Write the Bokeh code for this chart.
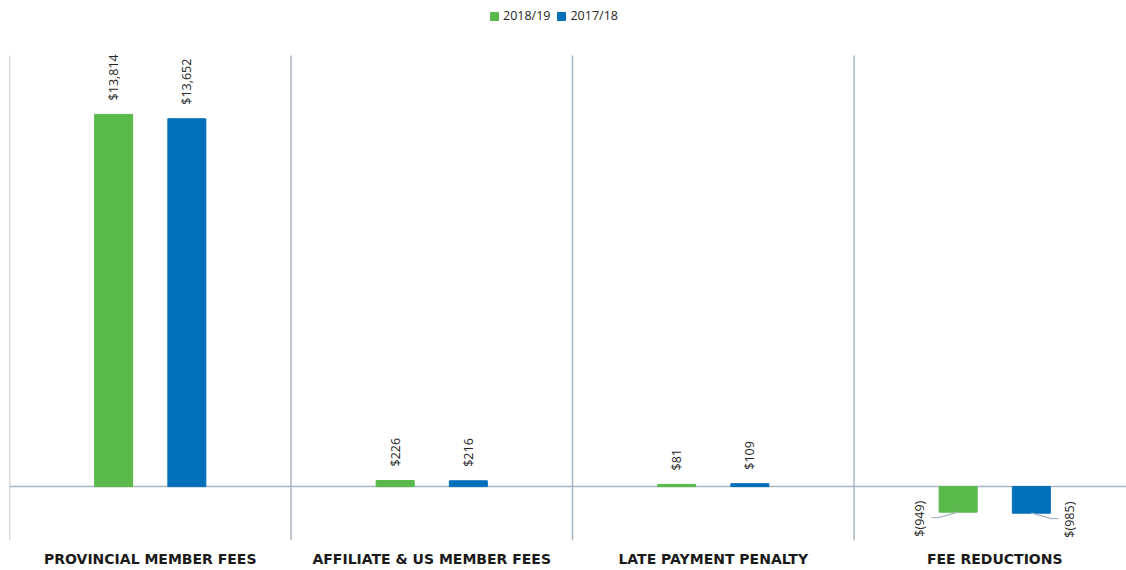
import math
from bokeh.plotting import figure
from bokeh.models import ColumnDataSource, FixedTicker, Legend, LegendItem
from bokeh.core.properties import value
from bokeh.embed import file_html
from bokeh.resources import INLINE

# ---- data ----
categories = ["PROVINCIAL MEMBER FEES", "AFFILIATE & US MEMBER FEES",
              "LATE PAYMENT PENALTY", "FEE REDUCTIONS"]
series_names = ["2018/19", "2017/18"]
values_2018_19 = [13814, 226, 81, -949]
values_2017_18 = [13652, 216, 109, -985]
series_colors = ["#59B94A", "#006FBA"]


def fmt(v):
    return f"${v:,}" if v >= 0 else f"$({-v:,})"


# ---- geometry ----
PX_PER_CAT = 281.5
FRAME_W = 1117
FRAME_H = 540
Y_MIN, Y_TOP = -2000, 16000
UNITS_PER_PX = (Y_TOP - Y_MIN) / 485.0
X_END = FRAME_W / PX_PER_CAT
Y_END = Y_MIN + FRAME_H * UNITS_PER_PX
PXX = 1.0 / PX_PER_CAT
OFFSET = 0.13
BAR_W = 0.135
LINE_COLOR = "#A9B6C3"
FONT = "Open Sans"

p = figure(frame_width=FRAME_W, frame_height=FRAME_H,
           x_range=(0, X_END), y_range=(Y_MIN, Y_END),
           output_backend="svg", toolbar_location=None, y_axis_location=None,
           min_border_left=9, min_border_right=0, min_border_top=0,
           min_border_bottom=30)
p.outline_line_color = None
p.xgrid.grid_line_color = None
p.ygrid.grid_line_color = None

n = len(categories)
centers = [i + 0.5 for i in range(n)]

# separators and zero line
p.segment(x0=list(range(n)), y0=[Y_MIN] * n, x1=list(range(n)), y1=[Y_TOP] * n,
          line_color=LINE_COLOR, line_width=1.5)
p.segment(x0=[0], y0=[0], x1=[X_END], y1=[0], line_color=LINE_COLOR, line_width=1.5)

renderers = []
for s, (vals, col, sign) in enumerate(zip([values_2018_19, values_2017_18],
                                          series_colors, [-1, 1])):
    xs = [c + sign * OFFSET for c in centers]
    src = ColumnDataSource(dict(x=xs, top=vals, lab=[fmt(v) for v in vals]))
    r = p.vbar(x="x", top="top", bottom=0, width=BAR_W, source=src,
               fill_color=col, line_color=col)
    renderers.append(r)

    pos = ColumnDataSource(dict(x=[x for x, v in zip(xs, vals) if v >= 0],
                                y=[v for v in vals if v >= 0],
                                t=[fmt(v) for v in vals if v >= 0]))
    p.text(x="x", y="y", text="t", source=pos, angle=math.pi / 2,
           text_align="left", text_baseline="middle", y_offset=-14,
           text_font=value(FONT), text_font_size="12.5px", text_color="#262626")

    negx = [x for x, v in zip(xs, vals) if v < 0]
    negy = [v for v in vals if v < 0]
    neg = ColumnDataSource(dict(x=negx, y=negy, t=[fmt(v) for v in negy]))
    p.text(x="x", y="y", text="t", source=neg, angle=math.pi / 2,
           text_align="center", text_baseline="middle",
           x_offset=sign * 38.5, y_offset=6.5,
           text_font=value(FONT), text_font_size="12.5px", text_color="#262626")
    # leader lines
    lx, ly = [], []
    for x, v in zip(negx, negy):
        lx.append([x, x + sign * 20 * PXX, x + sign * 27 * PXX])
        ly.append([v, v - 5.5 * UNITS_PER_PX, v - 5.5 * UNITS_PER_PX])
    p.multi_line(xs=lx, ys=ly, line_color=LINE_COLOR, line_width=1.2)

legend = Legend(items=[LegendItem(label=nm, renderers=[r])
                       for nm, r in zip(series_names, renderers)],
                orientation="horizontal", location=(480, FRAME_H - 8 - 16),
                glyph_width=10, glyph_height=10, label_height=16,
                label_standoff=4, spacing=6, padding=0, margin=0,
                label_text_font=FONT, label_text_font_size="12.5px",
                label_text_color="#262626", background_fill_alpha=0,
                border_line_color=None)
p.add_layout(legend)

p.xaxis.ticker = FixedTicker(ticks=centers)
p.xaxis.major_label_overrides = {c: cat for c, cat in zip(centers, categories)}
p.xaxis.axis_line_color = None
p.xaxis.major_tick_line_color = None
p.xaxis.minor_tick_line_color = None
p.xaxis.major_label_standoff = 4
p.xaxis.major_label_text_font = "DejaVu Sans"
p.xaxis.major_label_text_font_style = "bold"
p.xaxis.major_label_text_font_size = "14px"
p.xaxis.major_label_text_color = "#1a1a1a"

open("out.html", "w").write(file_html(p, INLINE))
